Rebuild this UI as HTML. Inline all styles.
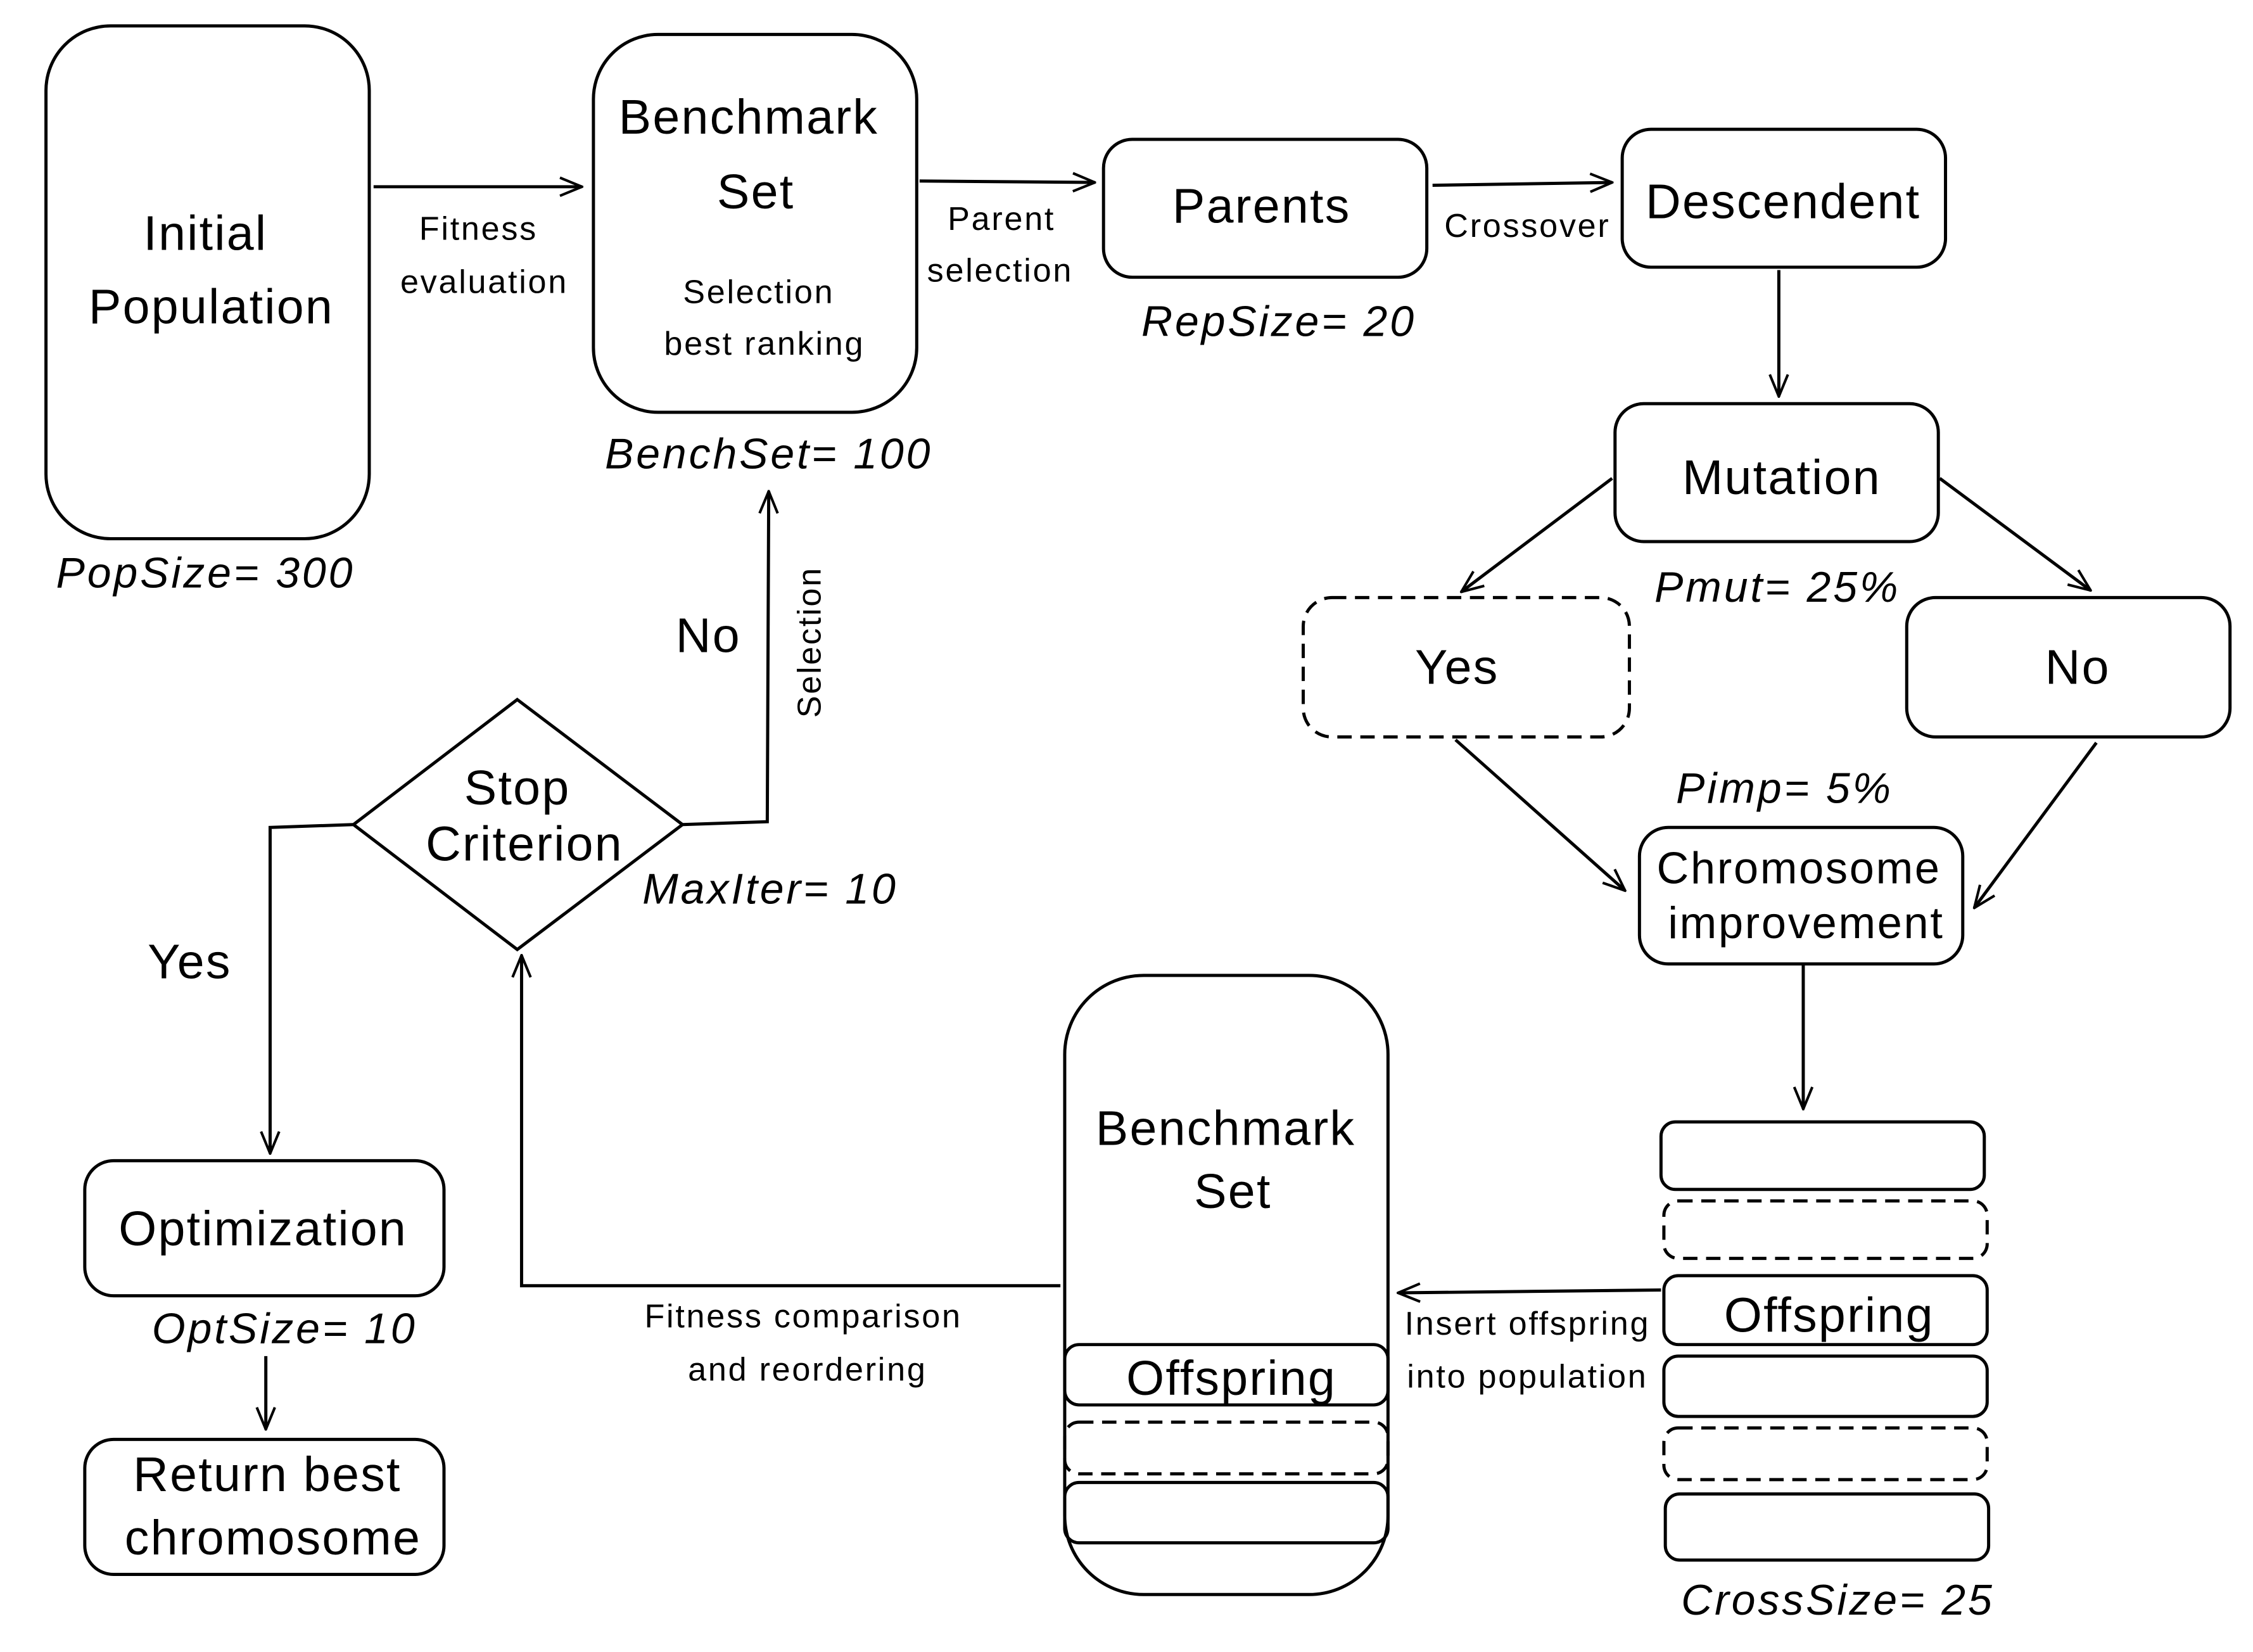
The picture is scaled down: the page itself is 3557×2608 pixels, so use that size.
<!DOCTYPE html>
<html><head><meta charset="utf-8"><style>html,body{margin:0;padding:0;background:#fff}svg{display:block}</style></head>
<body>
<svg width="3557" height="2608" viewBox="0 0 1568 1150" preserveAspectRatio="none" xmlns="http://www.w3.org/2000/svg">
<defs>
<marker id="a" viewBox="0 0 20 20" refX="19" refY="10" markerWidth="18" markerHeight="18" markerUnits="userSpaceOnUse" orient="auto">
<polyline points="2,3 19,10 2,17" fill="none" stroke="#000" stroke-width="2"/>
</marker>
</defs>
<g fill="none" stroke="#000" stroke-width="2.2">
<rect x="32" y="18" width="225" height="357" rx="45"/>
<rect x="413" y="24" width="225" height="263" rx="45"/>
<rect x="768" y="97" width="225" height="96" rx="20"/>
<rect x="1129" y="90" width="225" height="96" rx="20"/>
<rect x="1124" y="281" width="225" height="96" rx="20"/>
<rect x="907" y="416" width="227" height="97" rx="20" stroke-dasharray="10,6"/>
<rect x="1327" y="416" width="225" height="97" rx="20"/>
<rect x="1141" y="576" width="225" height="95" rx="20"/>
<rect x="1156" y="781" width="225" height="47" rx="10"/>
<rect x="1158" y="836" width="225" height="40" rx="10" stroke-dasharray="10,6"/>
<rect x="1158" y="888" width="225" height="48" rx="10"/>
<rect x="1158" y="944" width="225" height="42" rx="10"/>
<rect x="1158" y="994" width="225" height="36" rx="10" stroke-dasharray="10,6"/>
<rect x="1159" y="1040" width="225" height="46" rx="10"/>
<rect x="741" y="679" width="225" height="431" rx="55"/>
<rect x="741" y="936" width="225" height="42" rx="10"/>
<rect x="741" y="990" width="225" height="36" rx="10" stroke-dasharray="10,6"/>
<rect x="741" y="1032" width="225" height="42" rx="10"/>
<polygon points="360,487 475,574 360,661 246,574"/>
<rect x="59" y="808" width="250" height="94" rx="20"/>
<rect x="59" y="1002" width="250" height="94" rx="20"/>
<line x1="260" y1="130" x2="405" y2="130" marker-end="url(#a)"/>
<line x1="640" y1="126" x2="762" y2="127" marker-end="url(#a)"/>
<line x1="997" y1="129" x2="1122" y2="127" marker-end="url(#a)"/>
<line x1="1238" y1="188" x2="1238" y2="276" marker-end="url(#a)"/>
<line x1="1122" y1="333" x2="1017" y2="412" marker-end="url(#a)"/>
<line x1="1350" y1="333" x2="1455" y2="411" marker-end="url(#a)"/>
<line x1="1013" y1="515" x2="1131" y2="620" marker-end="url(#a)"/>
<line x1="1459" y1="517" x2="1374" y2="632" marker-end="url(#a)"/>
<line x1="1255" y1="672" x2="1255" y2="772" marker-end="url(#a)"/>
<line x1="1156" y1="898" x2="973" y2="900" marker-end="url(#a)"/>
<polyline points="738,895 363,895 363,665" marker-end="url(#a)"/>
<polyline points="475,574 534,572 535,342" marker-end="url(#a)"/>
<polyline points="246,574 188,576 188,803" marker-end="url(#a)"/>
<line x1="185" y1="944" x2="185" y2="995" marker-end="url(#a)"/>
</g>
<g font-family="Liberation Sans, sans-serif" fill="#000" text-anchor="middle">
<g font-size="34" letter-spacing="1">
<text x="143" y="174">Initial</text>
<text x="147" y="225">Population</text>
<text x="521" y="93">Benchmark</text>
<text x="526" y="145">Set</text>
<text x="878" y="155">Parents</text>
<text x="1241" y="152">Descendent</text>
<text x="1240" y="344">Mutation</text>
<text x="1014" y="476">Yes</text>
<text x="1446" y="476">No</text>
<text x="1273" y="927">Offspring</text>
<text x="853" y="797">Benchmark</text>
<text x="858" y="841">Set</text>
<text x="857" y="971">Offspring</text>
<text x="360" y="560">Stop</text>
<text x="365" y="599">Criterion</text>
<text x="493" y="454">No</text>
<text x="132" y="681">Yes</text>
<text x="183" y="867">Optimization</text>
<text x="186" y="1038">Return best</text>
<text x="190" y="1082">chromosome</text>
</g>
<g font-size="31" letter-spacing="1.2">
<text x="1252" y="615">Chromosome</text>
<text x="1257" y="653">improvement</text>
</g>
<g font-size="23" letter-spacing="1.2">
<text x="333" y="167">Fitness</text>
<text x="337" y="204">evaluation</text>
<text x="528" y="211">Selection</text>
<text x="532" y="247">best ranking</text>
<text x="697" y="160">Parent</text>
<text x="696" y="196">selection</text>
<text x="1063" y="165">Crossover</text>
<text x="1063" y="929">Insert offspring</text>
<text x="1063" y="966">into population</text>
<text x="559" y="924">Fitness comparison</text>
<text x="562" y="961">and reordering</text>
<text x="0" y="0" transform="translate(571,447) rotate(-90)">Selection</text>
</g>
<g font-size="30" font-style="italic" letter-spacing="1.7">
<text x="143" y="409">PopSize= 300</text>
<text x="535" y="326">BenchSet= 100</text>
<text x="890" y="234">RepSize= 20</text>
<text x="1237" y="419">Pmut= 25%</text>
<text x="1242" y="559">Pimp= 5%</text>
<text x="1279" y="1124">CrossSize= 25</text>
<text x="536" y="629">MaxIter= 10</text>
<text x="198" y="935">OptSize= 10</text>
</g>
</g>
</svg>
</body></html>
